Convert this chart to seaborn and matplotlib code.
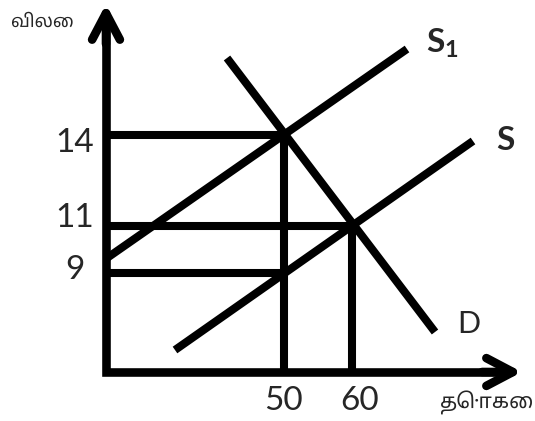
import numpy as np
import pandas as pd
import seaborn as sns
import matplotlib.pyplot as plt

# diagram coordinates (schematic, not to scale)
origin = (106, 49)
axis_tip = (522, 417)

supply_s1_x = [107, 407]
supply_s1_y = [163, 372]
supply_s_x = [175, 473]
supply_s_y = [71, 280]
demand_x = [227, 435]
demand_y = [363, 89]

price_labels = ["9", "11", "14"]
price_pos = [148, 195, 286]
price_guide_end = [284, 352, 284]
price_label_pos = [151, 203, 278]

qty_labels = ["50", "60"]
qty_pos = [284, 352]
qty_guide_top = [286, 195]
qty_label_pos = [283, 360]

sns.set_style("white")
plt.rcParams["font.family"] = ["Lato", "DejaVu Sans"]
plt.rcParams["mathtext.fontset"] = "custom"
plt.rcParams["mathtext.rm"] = "Lato"
plt.rcParams["mathtext.it"] = "Lato"
plt.rcParams["mathtext.bf"] = "Lato:bold"

tamil = ["Noto Sans Tamil", "Lohit Tamil", "Noto Sans", "DejaVu Sans"]

fig = plt.figure(figsize=(5.35, 4.21), dpi=100)
ax = fig.add_axes([0, 0, 1, 1])
ax.set_xlim(0, 535)
ax.set_ylim(0, 421)
ax.set_axis_off()

lw = 5.8

def draw(xs, ys, width=lw):
    df = pd.DataFrame({"x": xs, "y": ys})
    sns.lineplot(data=df, x="x", y="y", estimator=None, sort=False,
                 color="black", linewidth=width, ax=ax,
                 solid_capstyle="butt", solid_joinstyle="miter")

# supply and demand curves
draw(supply_s1_x, supply_s1_y)
draw(supply_s_x, supply_s_y)
draw(demand_x, demand_y)

# guide lines
for p, xe in zip(price_pos, price_guide_end):
    draw([origin[0], xe], [p, p])
for q, yt in zip(qty_pos, qty_guide_top):
    draw([q, q], [origin[1], yt])

# axes: one L-shaped line plus open arrow heads
draw([origin[0], origin[0], axis_tip[0] - 10],
     [axis_tip[1] - 10, origin[1], origin[1]], width=6.2)
arrow = dict(arrowstyle="->,head_length=1.9,head_width=1.0", lw=6.2,
             color="black", capstyle="round", joinstyle="round",
             shrinkA=0, shrinkB=0)
ax.annotate("", xy=(origin[0], axis_tip[1]), xytext=(origin[0], axis_tip[1] - 40),
            arrowprops=arrow)
ax.annotate("", xy=(axis_tip[0], origin[1]), xytext=(axis_tip[0] - 40, origin[1]),
            arrowprops=arrow)

# tick labels
for lab, y in zip(price_labels, price_label_pos):
    ax.text(75, y, lab, ha="center", va="center", fontsize=24)
for lab, x in zip(qty_labels, qty_label_pos):
    ax.text(x, 20, lab, ha="center", va="center", fontsize=24)

# curve labels
ax.text(426, 378, r"S$_\mathbf{1}$", ha="left", va="center", fontsize=24,
        fontweight="bold")
ax.text(496, 280, "S", ha="left", va="center", fontsize=24, fontweight="bold")
ax.text(457, 97, "D", ha="left", va="center", fontsize=22)

# axis titles
ax.text(42, 399, "விலை", ha="center", va="center", fontsize=13, family=tamil)
ax.text(486, 18, "தொகை", ha="center", va="center", fontsize=15, family=tamil)

fig.savefig("out.png", dpi=100, facecolor="white")
